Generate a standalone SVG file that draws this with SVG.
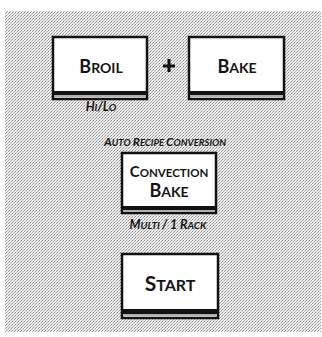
<svg xmlns="http://www.w3.org/2000/svg" width="322" height="337" viewBox="0 0 322 337">
<defs>
<pattern id="dots" width="3" height="3" patternUnits="userSpaceOnUse">
<rect x="0" y="0" width="3" height="3" fill="#eeeeee"/>
<rect x="0" y="0" width="1" height="1" fill="#8a8a8a"/>
<rect x="2" y="1" width="1" height="1" fill="#a0a0a0"/>
<rect x="1" y="2" width="1" height="1" fill="#b8b8b8"/>
</pattern>
<style>
.box{fill:#fff;stroke:#111;stroke-width:2.5}
.bar{fill:#111}
.gap{fill:#b0b0b0}
.lbl{font-family:Lato,"Open Sans",sans-serif;fill:#151515;text-anchor:middle;font-weight:bold}
.sub{font-family:Lato,"Open Sans",sans-serif;fill:#151515;text-anchor:middle;font-style:italic;font-weight:bold}
</style>
</defs>
<rect x="5" y="11" width="316" height="321" fill="url(#dots)"/>
<g id="broil">
<rect class="box" x="53" y="37" width="94" height="62"/>
<rect class="bar" x="54" y="91" width="92" height="4"/>
<rect class="gap" x="54" y="95" width="92" height="2"/>
<text class="lbl" x="101" y="73"><tspan font-size="18">B</tspan><tspan font-size="14">ROIL</tspan></text>
<text class="sub" x="101" y="111"><tspan font-size="12.5">H</tspan><tspan font-size="10">I</tspan><tspan font-size="12.5">/L</tspan><tspan font-size="10">O</tspan></text>
</g>
<g id="plus">
<path d="M163 66H175M169 59V72" stroke="#111" stroke-width="3" fill="none"/>
</g>
<g id="bake">
<rect class="box" x="189" y="37" width="95" height="62"/>
<rect class="bar" x="190" y="91" width="93" height="4"/>
<rect class="gap" x="190" y="95" width="93" height="2"/>
<text class="lbl" x="237" y="73"><tspan font-size="18">B</tspan><tspan font-size="14">AKE</tspan></text>
</g>
<g id="convection">
<text class="sub" x="165" y="146"><tspan font-size="12">A</tspan><tspan font-size="9.5">UTO </tspan><tspan font-size="12">R</tspan><tspan font-size="9.5">ECIPE </tspan><tspan font-size="12">C</tspan><tspan font-size="9.5">ONVERSION</tspan></text>
<rect class="box" x="122" y="153" width="94" height="60"/>
<rect class="bar" x="123" y="206" width="92" height="4"/>
<rect class="gap" x="123" y="210" width="92" height="2"/>
<text class="lbl" x="169" y="177"><tspan font-size="15">C</tspan><tspan font-size="11.5">ONVECTION</tspan></text>
<text class="lbl" x="169" y="197"><tspan font-size="18">B</tspan><tspan font-size="14">AKE</tspan></text>
<text class="sub" x="168" y="229"><tspan font-size="12.5">M</tspan><tspan font-size="10">ULTI </tspan><tspan font-size="12.5">/ 1 R</tspan><tspan font-size="10">ACK</tspan></text>
</g>
<g id="start">
<rect class="box" x="122" y="254" width="96" height="64"/>
<rect class="bar" x="123" y="309" width="94" height="5"/>
<rect class="gap" x="123" y="314" width="94" height="2"/>
<text class="lbl" x="170" y="291"><tspan font-size="21">S</tspan><tspan font-size="16">TART</tspan></text>
</g>
</svg>
